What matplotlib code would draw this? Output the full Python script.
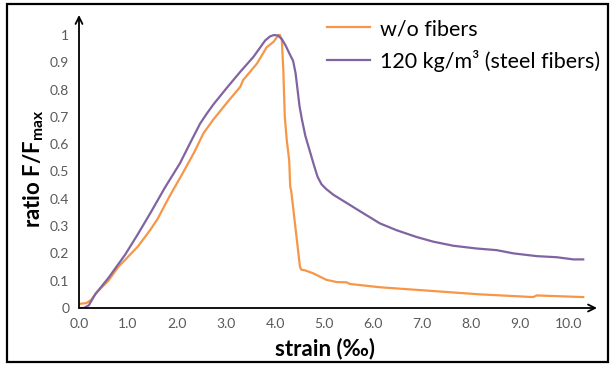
import matplotlib
matplotlib.use("Agg")
import matplotlib.pyplot as plt
from matplotlib.patches import Rectangle

plt.rcParams['font.family'] = ['Lato', 'DejaVu Sans']
plt.rcParams['mathtext.fontset'] = 'custom'
plt.rcParams['mathtext.rm'] = 'Lato:bold'
plt.rcParams['mathtext.bf'] = 'Lato:bold'

# strain (per mille) vs normalised force, plain concrete
strain_plain = [0.0, 0.15, 0.25, 0.35, 0.6, 0.8, 1.04, 1.2, 1.45, 1.6, 1.85, 2.12, 2.35,
                2.54, 2.74, 3.01, 3.29, 3.35, 3.63, 3.83, 3.97, 4.07, 4.10, 4.14, 4.17,
                4.20, 4.24, 4.29, 4.31, 4.33, 4.51, 4.54, 4.61, 4.78, 5.05, 5.26, 5.46,
                5.53, 6.14, 7.16, 8.18, 9.27, 9.34, 10.29]
ratio_plain = [0.015, 0.018, 0.03, 0.055, 0.10, 0.15, 0.195, 0.225, 0.285, 0.325, 0.41,
               0.495, 0.57, 0.64, 0.69, 0.75, 0.81, 0.835, 0.895, 0.955, 0.975, 1.0, 1.0,
               0.98, 0.87, 0.70, 0.615, 0.54, 0.445, 0.43, 0.15, 0.14, 0.138, 0.127, 0.103,
               0.095, 0.094, 0.088, 0.076, 0.063, 0.050, 0.040, 0.046, 0.040]

# with 120 kg/m3 steel fibres
strain_steel = [0.0, 0.1, 0.2, 0.33, 0.6, 0.94, 1.2, 1.48, 1.75, 2.06, 2.27, 2.47, 2.6,
                2.74, 3.01, 3.29, 3.56, 3.70, 3.80, 3.90, 3.98, 4.06, 4.14, 4.22, 4.30,
                4.37, 4.42, 4.46, 4.50, 4.55, 4.62, 4.71, 4.80, 4.87, 4.95, 5.05, 5.19,
                5.46, 5.73, 6.14, 6.48, 6.89, 7.23, 7.64, 8.11, 8.52, 8.87, 9.34, 9.75,
                10.09, 10.29]
ratio_steel = [0.0, 0.0, 0.01, 0.05, 0.11, 0.195, 0.27, 0.355, 0.44, 0.53, 0.605, 0.675,
               0.71, 0.745, 0.805, 0.865, 0.92, 0.955, 0.98, 0.995, 1.0, 0.998, 0.985,
               0.96, 0.93, 0.905, 0.86, 0.80, 0.74, 0.69, 0.63, 0.575, 0.52, 0.48, 0.453,
               0.435, 0.415, 0.385, 0.355, 0.31, 0.285, 0.26, 0.243, 0.228, 0.218, 0.212,
               0.20, 0.19, 0.186, 0.178, 0.178]

x_ticks = [0, 1, 2, 3, 4, 5, 6, 7, 8, 9, 10]
y_ticks = [0, 0.1, 0.2, 0.3, 0.4, 0.5, 0.6, 0.7, 0.8, 0.9, 1]

W, H = 611, 366
fig = plt.figure(figsize=(W / 100, H / 100), dpi=100)
ax = fig.add_axes([79 / W, (H - 308) / H, (597 - 79) / W, (308 - 15) / H])

ax.plot(strain_plain, ratio_plain, color='#F79646', lw=1.6, label='w/o fibers',
        solid_joinstyle='round')
ax.plot(strain_steel, ratio_steel, color='#8064A2', lw=1.6,
        label='120 kg/m³ (steel fibers)', solid_joinstyle='round')

ax.set_xlim(0, 518 / 49)
ax.set_ylim(0, 293 / 273)
for s in ax.spines.values():
    s.set_visible(False)

ax.set_xticks(x_ticks)
ax.set_xticklabels([f'{v:.1f}' for v in x_ticks])
ax.set_yticks(y_ticks)
ax.set_yticklabels([f'{v:g}' for v in y_ticks])
ax.tick_params(length=0, labelsize=10, labelcolor='#595959')
ax.tick_params(axis='x', pad=7)
ax.tick_params(axis='y', pad=7)

# axes drawn as arrows
arrow = dict(arrowstyle='->,head_length=0.5,head_width=0.25', lw=1.3, color='black',
             shrinkA=0, shrinkB=0)
ax.annotate('', xy=(1, 0), xytext=(0, 0), xycoords='axes fraction', arrowprops=arrow)
ax.annotate('', xy=(0, 1), xytext=(0, 0), xycoords='axes fraction', arrowprops=arrow)

fig.text(325 / W, 1 - 349 / H, 'strain (‰)', ha='center', va='center',
         fontsize=16, fontweight='bold')
fig.text(34 / W, 1 - 169 / H, r'ratio F/F$_{\mathrm{max}}$', ha='center', va='center',
         rotation=90, fontsize=16, fontweight='bold')

fig.legend(loc='upper left', bbox_to_anchor=(327 / W, 1 - 19 / H), frameon=False,
           fontsize=15.5, handlelength=2.0, handletextpad=0.45, labelspacing=0.5,
           borderpad=0, borderaxespad=0)

fig.patches.append(Rectangle((7 / W, 1 - 362 / H), 601 / W, 358 / H, fill=False,
                             lw=1.6, edgecolor='black', transform=fig.transFigure))

fig.savefig('out.png', dpi=100)
